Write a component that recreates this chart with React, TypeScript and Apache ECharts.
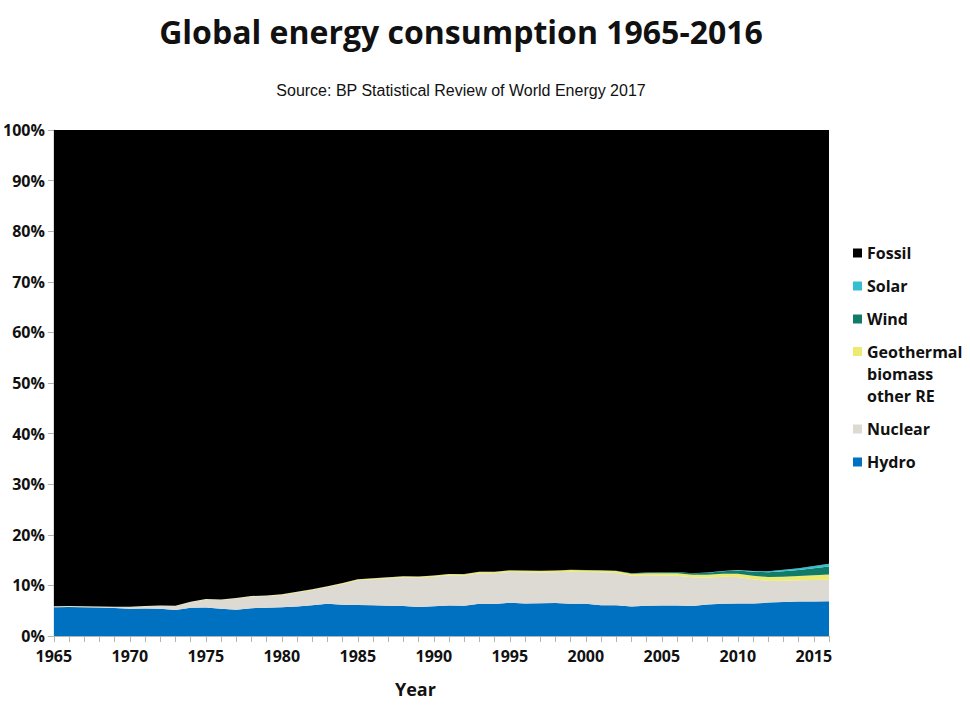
import * as echarts from 'echarts';
import { useEffect, useRef } from 'react';

const years = [
    1965, 1966, 1967, 1968, 1969, 1970, 1971, 1972, 1973, 1974, 1975, 1976, 1977, 1978, 1979, 1980, 1981, 1982,
    1983, 1984, 1985, 1986, 1987, 1988, 1989, 1990, 1991, 1992, 1993, 1994, 1995, 1996, 1997, 1998, 1999, 2000,
    2001, 2002, 2003, 2004, 2005, 2006, 2007, 2008, 2009, 2010, 2011, 2012, 2013, 2014, 2015, 2016,
];

// shares of global primary energy, percent
const hydro = [
    5.7, 5.75, 5.7, 5.65, 5.55, 5.4, 5.45, 5.4, 5.15, 5.6, 5.65, 5.4, 5.2, 5.5, 5.6, 5.7, 5.85, 6.1, 6.35, 6.2, 6.15,
    6.1, 6.0, 5.95, 5.75, 5.9, 6.05, 6.0, 6.35, 6.3, 6.55, 6.4, 6.45, 6.5, 6.35, 6.35, 6.1, 6.1, 5.85, 6.0, 6.05,
    6.05, 5.95, 6.25, 6.35, 6.4, 6.4, 6.6, 6.7, 6.8, 6.8, 6.85,
];
const nuclear = [
    0.15, 0.15, 0.15, 0.15, 0.2, 0.35, 0.45, 0.6, 0.8, 1.1, 1.55, 1.7, 2.2, 2.3, 2.3, 2.4, 2.75, 3.0, 3.35, 4.1, 4.85,
    5.1, 5.4, 5.65, 5.8, 5.8, 5.95, 5.95, 6.05, 6.1, 6.1, 6.2, 6.1, 6.1, 6.35, 6.3, 6.5, 6.35, 6.05, 6.0, 5.9, 5.85,
    5.65, 5.3, 5.35, 5.25, 4.8, 4.3, 4.2, 4.2, 4.25, 4.25,
];
const otherRe = [
    0.05, 0.05, 0.05, 0.05, 0.05, 0.05, 0.05, 0.05, 0.05, 0.05, 0.1, 0.1, 0.1, 0.1, 0.1, 0.15, 0.15, 0.15, 0.15, 0.15,
    0.2, 0.2, 0.2, 0.2, 0.2, 0.25, 0.25, 0.27, 0.28, 0.3, 0.3, 0.3, 0.32, 0.33, 0.35, 0.35, 0.35, 0.38, 0.4, 0.42,
    0.45, 0.48, 0.5, 0.55, 0.6, 0.65, 0.7, 0.75, 0.8, 0.85, 0.95, 1.05,
];
const wind = [
    0, 0, 0, 0, 0, 0, 0, 0, 0, 0, 0, 0, 0, 0, 0, 0, 0, 0, 0, 0, 0, 0, 0, 0, 0, 0.01, 0.01, 0.01, 0.01, 0.02, 0.02,
    0.02, 0.03, 0.03, 0.04, 0.05, 0.06, 0.08, 0.1, 0.13, 0.2, 0.25, 0.3, 0.4, 0.5, 0.65, 0.8, 0.95, 1.1, 1.2, 1.4, 1.6,
];
const solar = [
    0, 0, 0, 0, 0, 0, 0, 0, 0, 0, 0, 0, 0, 0, 0, 0, 0, 0, 0, 0, 0, 0, 0, 0, 0, 0, 0, 0, 0, 0, 0, 0, 0, 0, 0, 0, 0,
    0, 0, 0, 0, 0, 0, 0.03, 0.04, 0.07, 0.13, 0.2, 0.27, 0.35, 0.45, 0.55,
];
const fossil = [
    94.1, 94.05, 94.1, 94.15, 94.2, 94.2, 94.05, 93.95, 94.0, 93.25, 92.7, 92.8, 92.5, 92.1, 92.0, 91.75, 91.25,
    90.75, 90.15, 89.55, 88.8, 88.6, 88.4, 88.2, 88.25, 88.04, 87.74, 87.77, 87.31, 87.28, 87.03, 87.08, 87.1, 87.04,
    86.91, 86.95, 86.99, 87.09, 87.6, 87.45, 87.4, 87.37, 87.6, 87.47, 87.16, 86.98, 87.17, 87.2, 86.93, 86.6,
    86.15, 85.7,
];

const seriesNames = ['Hydro', 'Nuclear', 'Geothermal biomass other RE', 'Wind', 'Solar', 'Fossil'];
const seriesColors = ['#0070c0', '#dcdad2', '#eeea70', '#0f7b68', '#33bfd0', '#000000'];
const seriesData = [hydro, nuclear, otherRe, wind, solar, fossil];

const font = "'Open Sans', 'Noto Sans', sans-serif";

const legendText = { fontFamily: font, fontSize: 16, fontWeight: 'bold' as const, color: '#111', lineHeight: 22 };

const legendBase = {
    orient: 'vertical' as const,
    left: 853,
    padding: 0,
    itemWidth: 9,
    itemHeight: 9,
    itemGap: 11,
    itemTextGap: 4,
    icon: 'rect',
    textStyle: legendText,
};

export default function App() {
    const chartRef = useRef<HTMLDivElement>(null);

    useEffect(() => {
        document.body.style.margin = '0';
        if (!chartRef.current) return;

        const chart = echarts.init(chartRef.current, null, { renderer: 'svg' });

        const option: echarts.EChartsOption = {
            animation: false,
            backgroundColor: '#ffffff',
            title: [
                {
                    text: 'Global energy consumption 1965-2016',
                    left: 456,
                    top: 10,
                    textAlign: 'center',
                    textStyle: { fontFamily: font, fontSize: 32, fontWeight: 'bold', color: '#111' },
                },
                {
                    text: 'Source: BP Statistical Review of World Energy 2017',
                    left: 456,
                    top: 77,
                    textAlign: 'center',
                    textStyle: { fontFamily: "'Liberation Sans', Arial, sans-serif", fontSize: 16, fontWeight: 'normal', color: '#111' },
                },
            ],
            // legend split in blocks; the multi-line entry gets its key drawn on the first line below
            legend: [
                { ...legendBase, top: 242, data: ['Fossil', 'Solar', 'Wind'] },
                {
                    ...legendBase,
                    top: 341,
                    formatter: () => 'Geothermal\nbiomass\nother RE',
                    data: [{ name: 'Geothermal biomass other RE', itemStyle: { color: 'rgba(0,0,0,0)' } }],
                },
                { ...legendBase, top: 418, data: ['Nuclear', 'Hydro'] },
            ],
            graphic: [
                { type: 'rect', left: 853, top: 347, shape: { width: 9, height: 9 }, style: { fill: seriesColors[2] }, silent: true },
            ],
            grid: { left: 53, right: 141, top: 130, bottom: 74 },
            xAxis: {
                type: 'category',
                data: years.map(String),
                boundaryGap: false,
                name: 'Year',
                nameLocation: 'middle',
                nameGap: 44,
                nameTextStyle: { fontFamily: font, fontSize: 18, fontWeight: 'bold', color: '#111', padding: [0, 52, 0, 0] },
                axisLine: { lineStyle: { color: '#b3b3b3', width: 1 } },
                axisTick: { interval: 0, length: 6, lineStyle: { color: '#b3b3b3' } },
                axisLabel: { interval: 4, margin: 12, fontFamily: font, fontSize: 16, fontWeight: 'bold', color: '#111' },
                splitLine: { show: false },
            },
            yAxis: {
                type: 'value',
                min: 0,
                max: 100,
                interval: 10,
                axisLine: { show: true, lineStyle: { color: '#b3b3b3' } },
                axisTick: { show: true, length: 6, lineStyle: { color: '#b3b3b3' } },
                axisLabel: { formatter: '{value}%', margin: 9, fontFamily: font, fontSize: 16, fontWeight: 'bold', color: '#111' },
                splitLine: { show: false },
            },
            series: seriesNames.map((name, i) => ({
                name,
                type: 'line',
                stack: 'share',
                data: seriesData[i],
                showSymbol: false,
                symbol: 'none',
                lineStyle: { width: 0 },
                areaStyle: { color: seriesColors[i], opacity: 1 },
                itemStyle: { color: seriesColors[i] },
                emphasis: { disabled: true },
            })),
        };

        chart.setOption(option);

        const handleResize = () => chart.resize();
        window.addEventListener('resize', handleResize);

        return () => {
            chart.dispose();
            window.removeEventListener('resize', handleResize);
        };
    }, []);

    return <div ref={chartRef} style={{ width: '970px', height: '710px' }} />;
}
